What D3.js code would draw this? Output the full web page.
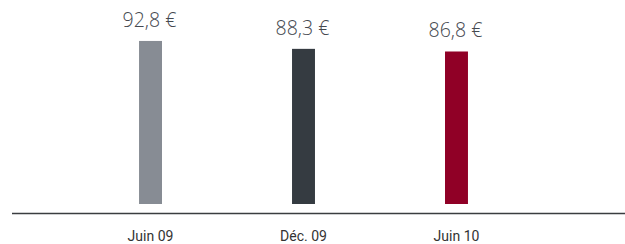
<!DOCTYPE html>
<html>
<head>
<meta charset="utf-8">
<script src="https://cdn.jsdelivr.net/npm/d3@7"></script>
<style>
  body { margin: 0; background: #fff; }
</style>
</head>
<body>
<div id="chart"></div>
<script>
// data
var categories = ["Juin 09", "Déc. 09", "Juin 10"];
var values = [92.8, 88.3, 86.8];
var valueLabels = ["92,8 €", "88,3 €", "86,8 €"];
var colors = ["#878c94", "#353b41", "#900026"];

var width = 625, height = 244;

var svg = d3.select("#chart").append("svg")
  .attr("width", width)
  .attr("height", height);

// set the ranges
var x = d3.scaleBand()
  .domain(categories)
  .range([9, 598])
  .paddingInner(0.85)
  .paddingOuter(0.85);

var y = d3.scaleLinear()
  .domain([0, 100])
  .range([204, 28.3]);

var data = categories.map(function(c, i) {
  return { cat: c, value: values[i], label: valueLabels[i], color: colors[i] };
});

// bars
svg.selectAll(".bar")
  .data(data)
  .enter().append("rect")
  .attr("class", "bar")
  .attr("x", function(d) { return x(d.cat); })
  .attr("width", x.bandwidth())
  .attr("y", function(d) { return y(d.value); })
  .attr("height", function(d) { return y(0) - y(d.value); })
  .style("fill", function(d) { return d.color; });

// value labels above bars
svg.selectAll(".val")
  .data(data)
  .enter().append("text")
  .attr("class", "val")
  .attr("x", function(d) { return x(d.cat) + x.bandwidth() / 2 - 1; })
  .attr("y", function(d) { return y(d.value) - 14; })
  .attr("text-anchor", "middle")
  .style("font-family", "'Open Sans', sans-serif")
  .style("font-weight", 300)
  .style("font-size", "19.5px")
  .style("fill", "#45494f")
  .text(function(d) { return d.label; });

// baseline
svg.append("line")
  .attr("x1", 12).attr("x2", width)
  .attr("y1", 213.5).attr("y2", 213.5)
  .style("stroke", "#3a3d40")
  .style("stroke-width", 1.5);

// category axis
var xAxis = svg.append("g")
  .attr("transform", "translate(0,214)")
  .call(d3.axisBottom(x).tickSize(0).tickPadding(17));

xAxis.select(".domain").remove();
xAxis.selectAll("text")
  .style("font-family", "Roboto, sans-serif")
  .style("font-size", "14px")
  .style("fill", "#333");
</script>
</body>
</html>
